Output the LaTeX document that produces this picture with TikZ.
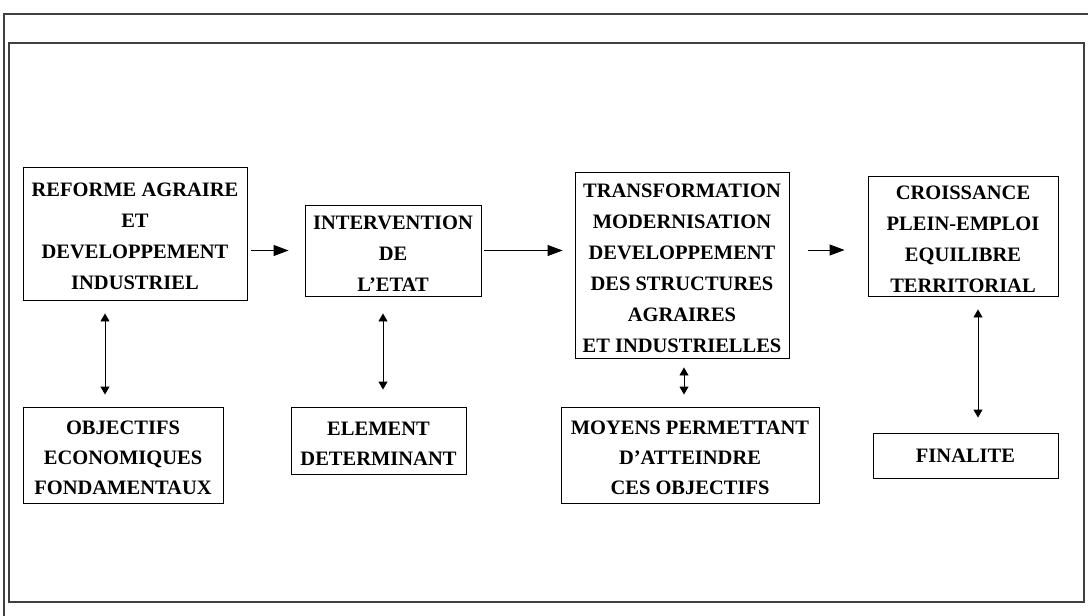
\documentclass[tikz,border=0pt]{standalone}
\usepackage{fontspec}
\setmainfont{Liberation Serif}
\usetikzlibrary{arrows.meta,calc}
\newcommand{\tstrut}{\rule{0pt}{19.5pt}}
\begin{document}
\begin{tikzpicture}[x=1pt,y=-1pt,
  boxnode/.style={draw,line width=0.9pt,inner sep=0pt,align=center,
    font=\fontsize{20.5}{31}\selectfont\bfseries},
  lowbox/.style={boxnode,font=\fontsize{20.5}{30}\selectfont\bfseries},
  harr/.style={line width=0.9pt,-{Triangle[length=15pt,width=11pt]}},
  varr/.style={line width=0.9pt,{Triangle[length=8pt,width=9pt]}-{Triangle[length=8pt,width=9pt]}},
  frame/.style={draw=black!75,line width=1.1pt}]
\useasboundingbox (0,0) rectangle (1088,616);
% frames
\draw[frame] (1088,14) -- (4,14) -- (4,616);
\draw[frame,line width=1.4pt] (9,43) rectangle (1084,602);
% top row
\node[boxnode,minimum width=224pt,minimum height=133pt] (b1) at (135,233.5)
  {\tstrut REFORME AGRAIRE\\ET\\DEVELOPPEMENT\\INDUSTRIEL};
\node[boxnode,minimum width=176pt,minimum height=91pt] (b2) at (393,250.5)
  {\tstrut INTERVENTION\\DE\\L’ETAT};
\node[boxnode,minimum width=214pt,minimum height=186pt] (b3) at (682,265)
  {\tstrut TRANSFORMATION\\MODERNISATION\\DEVELOPPEMENT\\DES STRUCTURES\\AGRAIRES\\ET INDUSTRIELLES};
\node[boxnode,minimum width=190pt,minimum height=120pt] (b6) at (963,236)
  {\tstrut CROISSANCE\\PLEIN-EMPLOI\\EQUILIBRE\\TERRITORIAL};
% bottom row
\node[lowbox,minimum width=200pt,minimum height=96pt] (b4) at (123,455)
  {\tstrut OBJECTIFS\\ECONOMIQUES\\FONDAMENTAUX};
\node[lowbox,minimum width=175pt,minimum height=67pt] (b5) at (378.5,440.5)
  {\tstrut ELEMENT\\DETERMINANT};
\node[lowbox,minimum width=258pt,minimum height=96pt] (b7) at (690,455)
  {\tstrut MOYENS PERMETTANT\\D’ATTEINDRE\\CES OBJECTIFS};
\node[lowbox,minimum width=185pt,minimum height=45pt] (b8) at (965.5,455.5)
  {FINALITE};
% horizontal arrows
\draw[harr,shorten <=4pt,shorten >=16pt] (b1.east |- b2.west) -- (b2.west);
\draw[harr,shorten <=3pt,shorten >=12pt] (b2.east) -- (b3.west |- b2.east);
\draw[harr,shorten <=19pt,shorten >=23pt] ([yshift=15pt]b3.east) -- ([yshift=-14pt]b6.west);
% vertical double arrows
\draw[varr,shorten <=13pt,shorten >=12pt] ([xshift=-30pt]b1.south) -- ([xshift=-18pt]b4.north);
\draw[varr,shorten <=17pt,shorten >=17pt] ([xshift=-10pt]b2.south) -- ([xshift=4.5pt]b5.north);
\draw[varr,shorten <=9pt,shorten >=12pt] ([xshift=2pt]b3.south) -- ([xshift=-6pt]b7.north);
\draw[varr,shorten <=13pt,shorten >=15pt] ([xshift=15pt]b6.south) -- ([xshift=12.5pt]b8.north);
\end{tikzpicture}
\end{document}
